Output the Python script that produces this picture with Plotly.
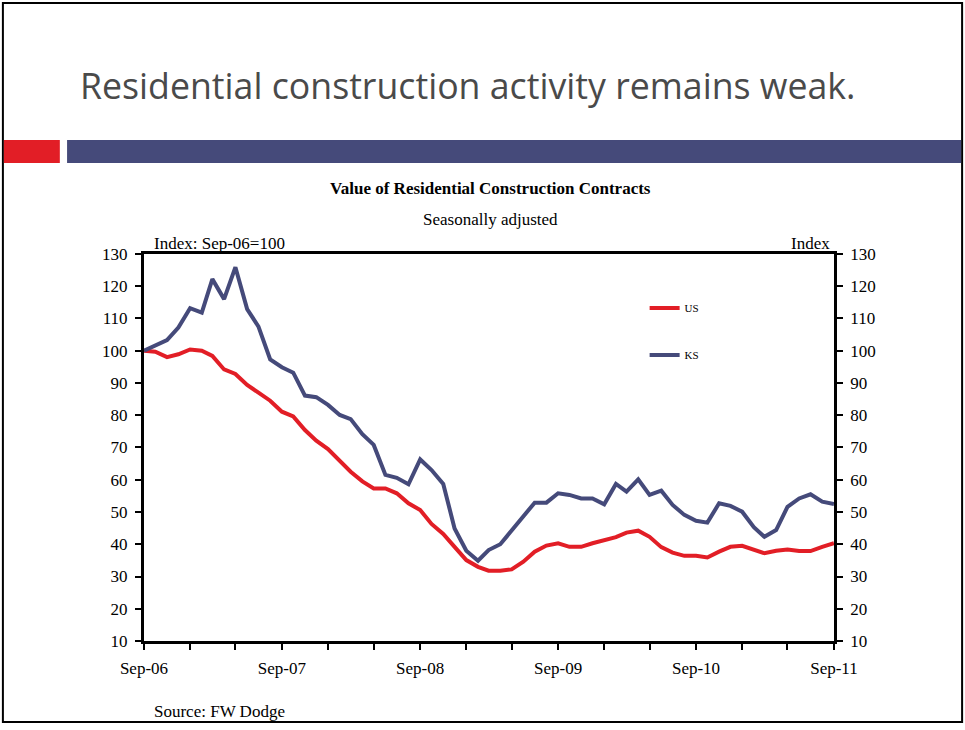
import plotly.graph_objects as go
import pandas as pd

# monthly, Sep-06 .. Sep-11 (index Sep-06 = 100)
months = pd.date_range("2006-09-01", "2011-09-01", freq="MS")

us = [100, 99.7, 98.0, 98.9, 100.4, 100.0, 98.4, 94.2, 92.8, 89.4,
      87.0, 84.5, 81.1, 79.6, 75.4, 72.1, 69.5, 66.0, 62.5, 59.5,
      57.3, 57.3, 55.8, 52.7, 50.6, 46.3, 43.2, 39.2, 35.1, 33.0,
      31.8, 31.8, 32.2, 34.6, 37.7, 39.6, 40.3, 39.2, 39.2, 40.3,
      41.3, 42.2, 43.6, 44.2, 42.3, 39.1, 37.4, 36.4, 36.4, 35.9,
      37.7, 39.2, 39.5, 38.4, 37.2, 38.0, 38.4, 37.9, 37.9, 39.2,
      40.3]

ks = [100, 101.5, 103.3, 107.2, 113.2, 111.8, 122.2, 116.0, 125.9, 112.9,
      107.5, 97.3, 94.9, 93.2, 86.1, 85.6, 83.2, 80.1, 78.8, 74.1,
      70.8, 61.5, 60.6, 58.6, 66.3, 63.0, 58.7, 44.9, 38.0, 34.9,
      38.2, 40.0, 44.1, 48.4, 52.9, 52.9, 55.8, 55.3, 54.2, 54.2,
      52.4, 58.7, 56.3, 60.1, 55.3, 56.6, 52.2, 49.1, 47.3, 46.7,
      52.7, 51.9, 50.1, 45.3, 42.3, 44.4, 51.6, 54.2, 55.5, 53.2,
      52.5]

year_ticks = ["Sep-06", "Sep-07", "Sep-08", "Sep-09", "Sep-10", "Sep-11"]
y_ticks = list(range(10, 131, 10))

RED = "#E21E26"
NAVY = "#454A7A"
SERIF = "Liberation Serif"

# ticks every 4 months, labels only every 12
tick_dates = months[::4]
tick_text = [year_ticks[i // 3] if i % 3 == 0 else "" for i in range(len(tick_dates))]

fig = go.Figure()
fig.add_trace(go.Scatter(x=months, y=us, name="US", mode="lines",
                         line=dict(color=RED, width=4), legendgroup="us"))
fig.add_trace(go.Scatter(x=months, y=ks, name="KS", mode="lines", yaxis="y2",
                         line=dict(color=NAVY, width=4), legendgroup="ks"))

axis_common = dict(range=[10, 130], tickvals=y_ticks, ticks="outside", ticklen=6,
                   tickwidth=2, tickcolor="black", showgrid=False, zeroline=False,
                   showline=True, linecolor="black", linewidth=3, automargin=False,
                   tickfont=dict(family=SERIF, size=17, color="black"))

fig.update_layout(
    template="none",
    width=965, height=730,
    margin=dict(l=0, r=0, t=0, b=0, autoexpand=False),
    paper_bgcolor="white", plot_bgcolor="white",
    showlegend=True,
    legend=dict(x=0.668, y=0.598, xanchor="left", yanchor="top",
                bgcolor="rgba(0,0,0,0)", tracegroupgap=28,
                font=dict(family=SERIF, size=11, color="black")),
    xaxis=dict(domain=[0.1492, 0.8642], range=[months[0], months[-1]],
               tickvals=tick_dates, ticktext=tick_text, ticks="outside",
               ticklen=6, tickwidth=2, tickcolor="black", showgrid=False,
               showline=True, linecolor="black", linewidth=3, mirror=True,
               ticklabelstandoff=4, automargin=False,
               tickfont=dict(family=SERIF, size=17, color="black")),
    yaxis=dict(domain=[0.1219, 0.6521], side="left", ticklabelstandoff=4, **axis_common),
    yaxis2=dict(overlaying="y", side="right", anchor="x", ticklabelstandoff=4, **axis_common),
)

# slide frame and header bars
fig.add_shape(type="rect", xref="paper", yref="paper", x0=0.003, x1=0.997,
              y0=0.011, y1=0.996, line=dict(color="black", width=2))
fig.add_shape(type="rect", xref="paper", yref="paper", x0=0.004, x1=0.062,
              y0=1 - 163 / 730, y1=1 - 140 / 730, fillcolor=RED, line_width=0)
fig.add_shape(type="rect", xref="paper", yref="paper", x0=0.0695, x1=0.996,
              y0=1 - 163 / 730, y1=1 - 140 / 730, fillcolor=NAVY, line_width=0)

annotations = [
    dict(text="Residential construction activity remains weak.", x=78 / 965, y=1 - 85 / 730,
         xanchor="left", yanchor="middle",
         font=dict(family="Open Sans", size=35.7, color="#4a4a4a")),
    dict(text="<b>Value of Residential Construction Contracts</b>", x=491 / 965, y=1 - 188 / 730,
         xanchor="center", yanchor="middle", font=dict(family=SERIF, size=17, color="black")),
    dict(text="Seasonally adjusted", x=491 / 965, y=1 - 219 / 730,
         xanchor="center", yanchor="middle", font=dict(family=SERIF, size=17, color="black")),
    dict(text="Index: Sep-06=100", x=152 / 965, y=1 - 244 / 730,
         xanchor="left", yanchor="middle", font=dict(family=SERIF, size=17, color="black")),
    dict(text="Index", x=832 / 965, y=1 - 244 / 730,
         xanchor="right", yanchor="middle", font=dict(family=SERIF, size=17, color="black")),
    dict(text="Source: FW Dodge", x=152 / 965, y=1 - 711 / 730,
         xanchor="left", yanchor="middle", font=dict(family=SERIF, size=17, color="black")),
]
for a in annotations:
    fig.add_annotation(xref="paper", yref="paper", showarrow=False, **a)

# drop the default page margin so the 965x730 figure fills the window
fig.write_html("out.html", config={"displayModeBar": False},
               post_script="document.body.style.margin='0px';")
